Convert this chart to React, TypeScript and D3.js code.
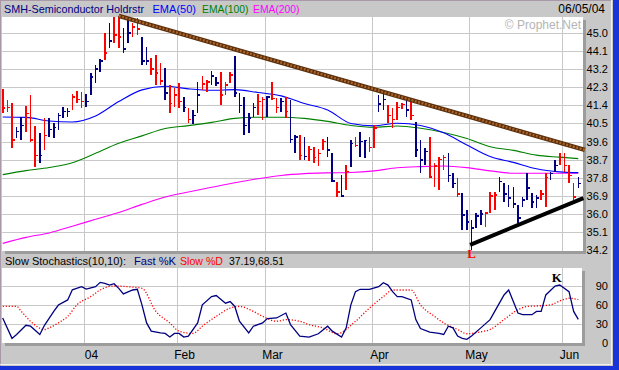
import * as d3 from 'd3'

// Daily bars, index 0 = 2003-12-05 ... 124 = 2004-06-04
const high = [
  42.22, 41.67, 41.52, 40.33, 40.82, 41.37, 41.92, 40.38, 40.03, 40.77,
  40.77, 40.52, 41.02, 41.32, 41.27, 41.97, 42.12, 42.07, 41.97, 43.01,
  43.41, 43.71, 45.0, 45.5, 45.8, 45.85, 45.25, 45.65, 45.5, 45.75,
  44.8, 44.3, 43.76, 43.9, 43.5, 43.26, 42.41, 42.26, 42.51, 41.82,
  41.27, 41.17, 42.56, 42.86, 42.66, 43.11, 42.81, 43.06, 42.56, 43.06,
  43.86, 42.02, 41.82, 41.02, 41.52, 41.97, 41.82, 41.87, 42.56, 41.77,
  41.77, 41.82, 41.67, 39.93, 39.93, 39.83, 39.38, 39.33, 39.23, 39.73,
  39.83, 39.03, 37.59, 37.94, 38.44, 39.68, 39.83, 40.08, 39.68, 39.83,
  40.42, 41.92, 42.02, 41.42, 41.27, 41.57, 41.52, 41.77, 41.57, 40.57,
  39.68, 39.28, 39.83, 38.53, 38.83, 38.93, 39.03, 38.04, 37.79, 37.04,
  36.2, 35.7, 36.05, 36.2, 36.05, 37.09, 37.09, 37.84, 37.54, 37.44,
  37.34, 36.45, 36.84, 38.04, 37.04, 36.94, 37.19, 38.04, 38.09, 38.68,
  39.03, 39.03, 38.44, 37.54, 37.84,
]
const low = [
  41.02, 41.07, 39.28, 39.78, 39.68, 40.08, 39.58, 38.34, 38.53, 39.18,
  39.83, 39.78, 40.18, 40.77, 40.82, 41.17, 41.52, 41.27, 41.32, 41.92,
  42.51, 43.06, 43.66, 44.25, 44.5, 44.25, 44.0, 44.5, 44.8, 44.9,
  43.4, 43.4, 42.91, 42.4, 42.4, 41.67, 41.02, 41.32, 41.27, 41.07,
  40.52, 40.47, 41.02, 42.17, 42.07, 42.41, 42.36, 41.42, 41.92, 42.51,
  41.82, 41.02, 39.93, 40.03, 40.82, 40.92, 40.67, 40.82, 41.67, 41.02,
  41.07, 40.77, 39.53, 39.03, 38.68, 38.68, 38.63, 38.53, 38.39, 39.18,
  38.83, 37.59, 36.84, 36.84, 37.19, 38.34, 39.33, 38.83, 38.78, 39.08,
  39.28, 41.07, 41.17, 40.52, 40.28, 40.67, 41.22, 40.82, 40.67, 38.83,
  38.04, 38.44, 37.79, 37.34, 37.19, 38.19, 37.59, 37.29, 36.84, 35.2,
  35.2, 34.21, 35.3, 35.45, 35.35, 36.05, 36.2, 37.09, 36.6, 36.35,
  36.3, 35.55, 36.35, 36.7, 36.3, 36.3, 36.7, 36.35, 37.69, 38.09,
  38.44, 38.09, 37.54, 36.7, 37.29,
]
const close = [
  41.27, 41.3, 39.68, 40.1, 40.4, 41.0, 39.68, 38.9, 38.9, 39.9,
  40.2, 40.3, 40.9, 41.1, 41.1, 41.8, 41.7, 41.6, 41.6, 42.8,
  43.2, 43.6, 44.0, 44.6, 44.9, 44.8, 44.2, 45.0, 45.3, 45.2,
  43.6, 43.6, 43.2, 43.0, 42.6, 42.0, 41.5, 41.9, 41.6, 41.3,
  40.7, 40.9, 41.9, 42.46, 42.56, 42.86, 42.5, 41.9, 42.4, 42.9,
  42.0, 41.4, 40.4, 40.77, 41.3, 41.6, 41.7, 41.8, 41.75, 41.3,
  41.6, 41.1, 39.7, 39.83, 38.9, 38.85, 39.2, 38.8, 39.0, 39.6,
  39.18, 37.64, 37.1, 36.9, 38.1, 39.5, 39.4, 39.6, 39.65, 39.3,
  40.27, 41.47, 41.7, 40.9, 40.7, 41.3, 41.45, 41.17, 40.9, 39.18,
  38.68, 39.1, 37.84, 38.39, 38.7, 38.8, 37.9, 37.5, 37.0, 35.95,
  35.6, 35.3, 35.9, 36.0, 36.05, 36.9, 36.95, 37.6, 37.0, 36.8,
  36.5, 35.8, 36.7, 37.3, 36.6, 36.8, 37.0, 37.8, 38.0, 38.4,
  38.8, 38.4, 37.9, 36.85, 37.5,
]
// u = up bar (navy), d = down bar (red)
const dir =
  'dddu udd dudu uuuu dddu uuud udd uud duu ddd udd dud uud duud dduu uuud dud duduu dudddd uudu dud uuddu udd ddud uuu ddddu uduu uuud dduuu uuuu uudduu dddd uuuu uudd dd uduu uuuu uddd u'.replace(/ /g, '')

const emaIdx = [0, 5, 10, 15, 20, 25, 30, 35, 40, 45, 50, 55, 60, 65, 70, 75, 80, 85, 90, 95, 100, 105, 110, 115, 120, 124]
const ema50 = [40.82, 40.8, 40.62, 40.57, 40.87, 41.59, 42.17, 42.35, 42.22, 42.15, 42.18, 42.04, 41.87, 41.49, 41.17, 40.5, 40.38, 40.51, 40.4, 40.03, 39.43, 38.85, 38.56, 38.24, 38.09, 38.05]
const ema100 = [37.95, 38.15, 38.31, 38.54, 39.01, 39.51, 39.88, 40.25, 40.39, 40.55, 40.75, 40.81, 40.81, 40.75, 40.6, 40.4, 40.31, 40.37, 40.26, 40.05, 39.75, 39.34, 39.16, 38.92, 38.82, 38.75]
const ema200 = [34.53, 34.83, 35.05, 35.38, 35.73, 36.07, 36.47, 36.84, 37.09, 37.32, 37.55, 37.75, 37.91, 38.0, 38.04, 38.06, 38.14, 38.29, 38.35, 38.38, 38.3, 38.14, 38.02, 38.02, 38.02, 38.02]

const resistance: [number, number][] = [[25, 45.85], [125.4, 39.18]]
const support: [number, number][] = [[100.7, 34.46], [125.1, 36.78]]

const kIdx = [0, 2, 3, 5, 6, 8, 9, 11, 12, 14, 15, 17, 18, 20, 21, 22, 23, 24, 25, 26, 28, 29, 30, 31, 32, 34, 35, 36, 37, 38, 39, 40, 42, 43, 45, 46, 48, 49, 50, 51, 53, 54, 56, 57, 59, 61, 62, 64, 66, 68, 70, 71, 73, 74, 75, 76, 77, 79, 81, 82, 83, 84, 85, 86, 88, 89, 90, 92, 94, 95, 96, 97, 98, 99, 100, 101, 103, 105, 106, 108, 109, 110, 111, 112, 114, 115, 116, 117, 119, 120, 122, 123, 124]
const kVal = [39.5, 7.3, 13.5, 28, 26.5, 13.5, 28, 50, 60, 68, 84, 89, 85, 89, 95.7, 94, 91.5, 93.6, 86.3, 77.5, 83.7, 84.8, 60.3, 31.7, 18.7, 16.1, 15.1, 9.4, 15.1, 15.1, 9.4, 10.9, 31.7, 60.3, 73.3, 74.9, 62.9, 65.5, 57.7, 34.3, 16.1, 26.5, 31.7, 38.5, 39.5, 47.3, 29.1, 10.9, 9.4, 14.6, 26.5, 18.7, 9.4, 23.9, 60.3, 81.1, 84.8, 84.8, 88.9, 95.2, 91.5, 81.1, 73.3, 73.3, 68.1, 36.9, 22.9, 17.2, 15.1, 13.5, 26.5, 23.9, 10.9, 7.3, 5.7, 10.9, 23.9, 36.9, 49.9, 75.9, 83.7, 65.5, 47.3, 44.7, 44.7, 49.9, 49.9, 75.9, 90, 91.5, 81.1, 49.9, 37.19]
const dIdx = [0, 3, 4, 6, 9, 10, 12, 14, 16, 19, 21, 24, 27, 30, 33, 36, 38, 41, 43, 46, 49, 51, 54, 56, 59, 61, 64, 66, 69, 72, 76, 79, 82, 84, 88, 90, 93, 95, 98, 100, 103, 105, 108, 111, 113, 116, 118, 121, 122, 124]
const dVal = [57.7, 57.7, 50, 34.3, 21.3, 23.9, 31.7, 42.1, 60.3, 73.3, 83.7, 90, 88.9, 86.3, 49.9, 31.7, 18.7, 15.1, 26.5, 42.1, 55.1, 57.7, 49.9, 42.1, 34.3, 36.9, 34.3, 29.1, 23.9, 14.6, 34.3, 55.1, 73.3, 83.7, 83.7, 60.3, 42.1, 31.7, 21.3, 14.6, 17.7, 21.3, 36.9, 52.5, 57.7, 58.8, 60.3, 69.2, 70.7, 68.51]

const priceTicks = [45.0, 44.1, 43.2, 42.3, 41.4, 40.5, 39.6, 38.7, 37.8, 36.9, 36.0, 35.1, 34.2]
const stochTicks = [0, 30, 60, 90]
const monthStart = [18, 38, 57, 80, 101, 121]
const monthLabels = ['04', 'Feb', 'Mar', 'Apr', 'May', 'Jun']

const FONT = '"Liberation Sans", Arial, sans-serif'
const GRID = '#c8c8c8'
const BG = '#c8c8c8'
const SHADOW = '#9c9c9c'

type Label = { text: string; x: number; w: number; size: number; color: string }
const header: Label[] = [
  { text: 'SMH-Semiconductor Holdrstr', x: 4, w: 140, size: 11.4, color: '#000080' },
  { text: 'EMA(50)', x: 152.5, w: 43.5, size: 11.4, color: '#0000ff' },
  { text: 'EMA(100)', x: 202, w: 46.5, size: 11.4, color: '#008000' },
  { text: 'EMA(200)', x: 253, w: 46.5, size: 11.4, color: '#ff00ff' },
]
const stochHeader: Label[] = [
  { text: 'Slow Stochastics(10,10):', x: 5, w: 121, size: 11.1, color: '#000' },
  { text: 'Fast %K', x: 134, w: 42, size: 11.4, color: '#000080' },
  { text: 'Slow %D', x: 180, w: 43, size: 11.4, color: '#ff0000' },
  { text: '37.19,68.51', x: 229, w: 55, size: 11.4, color: '#000' },
]

export default function App() {
  const x = d3.scaleLinear().domain([0, 124]).range([2.7, 578.3])
  const step = x(1) - x(0)
  const yP = d3.scaleLinear().domain([34.2, 45.0]).range([250, 33])
  const yS = d3.scaleLinear().domain([0, 90]).range([343, 286])

  const pP = { x: 2, y: 17, w: 581, h: 234 }
  const pS = { x: 2, y: 268, w: 580, h: 75 }

  const emaLine = (vals: number[]) =>
    d3.line<number>().x((_, i) => x(emaIdx[i])).y(v => yP(v)).curve(d3.curveMonotoneX)(vals) || ''
  const kLine = d3.line<number>().x((_, i) => x(kIdx[i])).y(v => yS(v))(kVal) || ''
  const dLine = d3.line<number>().x((_, i) => x(dIdx[i])).y(v => yS(v)).curve(d3.curveMonotoneX)(dVal) || ''
  const seg = d3.line<[number, number]>().x(d => x(d[0])).y(d => yP(d[1]))

  const gridX = monthStart.map(m => Math.round(x(m) - step / 2) + 0.5)
  const lowIdx = low.indexOf(d3.min(low)!)
  const kPeak = kVal.lastIndexOf(d3.max(kVal.slice(-10))!)

  const labelRow = (items: Label[], y: number) =>
    items.map(l => (
      <text key={l.text} x={l.x} y={y} fontSize={l.size} fill={l.color} textLength={l.w} lengthAdjust="spacingAndGlyphs">
        {l.text}
      </text>
    ))

  return (
    <div style={{ position: 'absolute', left: 0, top: 0 }}>
      <svg width={619} height={370} style={{ display: 'block', fontFamily: FONT }}>
        <rect x={0} y={0} width={619} height={370} fill={BG} />
        <line x1={0.5} y1={0} x2={0.5} y2={366} stroke="#a898a8" />
        <line x1={0} y1={0.5} x2={612} y2={0.5} stroke="#a898a8" />
        <line x1={611.5} y1={0} x2={611.5} y2={365} stroke="#f0f0f0" />
        <line x1={0} y1={364.5} x2={612} y2={364.5} stroke="#f0f0f0" />
        <rect x={613} y={0} width={6} height={370} fill="#1834d8" />
        <rect x={0} y={366} width={619} height={4} fill="#1834d8" />

        {/* header */}
        {labelRow(header, 13)}
        <text x={605} y={13} fontSize={12} fill="#000" textAnchor="end">06/05/04</text>

        {/* price panel */}
        <rect x={pP.x + 3} y={pP.y + 3} width={pP.w} height={pP.h} fill={SHADOW} />
        <rect x={pP.x} y={pP.y} width={pP.w} height={pP.h} fill="#fff" />
        <g shapeRendering="crispEdges" stroke={GRID}>
          {priceTicks.slice(0, -1).map(t => (
            <line key={t} x1={pP.x} x2={pP.x + pP.w} y1={Math.round(yP(t)) + 0.5} y2={Math.round(yP(t)) + 0.5} />
          ))}
          {gridX.map(gx => <line key={gx} x1={gx} x2={gx} y1={pP.y} y2={pP.y + pP.h} />)}
        </g>
        <text x={581} y={29} fontSize={12} fill="#b4b4b4" textAnchor="end">© Prophet.Net</text>
        <path d={emaLine(ema200)} fill="none" stroke="#ff00ff" strokeWidth={1.1} />
        <path d={emaLine(ema100)} fill="none" stroke="#008000" strokeWidth={1.1} />
        <path d={emaLine(ema50)} fill="none" stroke="#0000ff" strokeWidth={1.1} />
        <g shapeRendering="crispEdges" strokeWidth={1.6}>
          {close.map((c, i) => {
            const col = dir[i] === 'u' ? '#000080' : '#ff0000'
            const bx = x(i)
            return (
              <g key={i} stroke={col}>
                <line x1={bx} x2={bx} y1={yP(high[i])} y2={yP(low[i])} />
                <line x1={bx} x2={bx + 2.6} y1={yP(c)} y2={yP(c)} />
              </g>
            )
          })}
        </g>
        <path d={seg(resistance) || ''} stroke="#5a2e0a" strokeWidth={4.5} fill="none" />
        <path d={seg(resistance) || ''} stroke="#a8642a" strokeWidth={2.4} strokeDasharray="2 1.5" fill="none" />
        <path d={seg(support) || ''} stroke="#000" strokeWidth={4} fill="none" />
        {priceTicks.map(t => (
          <text key={t} x={608} y={yP(t) + 4} fontSize={11} textAnchor="end" fill="#000">{t.toFixed(1)}</text>
        ))}
        <text x={x(lowIdx)} y={yP(low[lowIdx]) + 8} fontSize={13} fontWeight="bold" fill="#ff0000"
          textAnchor="middle" fontFamily='"Liberation Serif", serif'>L</text>

        {/* stochastics panel */}
        {labelRow(stochHeader, 265)}
        <rect x={pS.x + 3} y={pS.y + 3} width={pS.w} height={pS.h} fill={SHADOW} />
        <rect x={pS.x} y={pS.y} width={pS.w} height={pS.h} fill="#fff" />
        <g shapeRendering="crispEdges" stroke={GRID}>
          {stochTicks.slice(1).map(t => (
            <line key={t} x1={pS.x} x2={pS.x + pS.w} y1={Math.round(yS(t)) + 0.5} y2={Math.round(yS(t)) + 0.5} />
          ))}
          {gridX.map(gx => <line key={gx} x1={gx} x2={gx} y1={pS.y} y2={pS.y + pS.h} />)}
        </g>
        <path d={dLine} fill="none" stroke="#ff0000" strokeWidth={1.3} strokeDasharray="1.2 1.8" />
        <path d={kLine} fill="none" stroke="#000080" strokeWidth={1.3} />
        <text x={x(kIdx[kPeak]) - 3} y={yS(kVal[kPeak]) - 3} fontSize={13} fontWeight="bold" fill="#000"
          textAnchor="middle" fontFamily='"Liberation Serif", serif'>K</text>
        {stochTicks.map(t => (
          <text key={t} x={608} y={yS(t) + 4} fontSize={11} textAnchor="end" fill="#000">{t}</text>
        ))}
        {monthLabels.map((m, i) => (
          <text key={m} x={gridX[i] + 7} y={359} fontSize={12} textAnchor="middle" fill="#000">{m}</text>
        ))}
      </svg>
    </div>
  )
}
